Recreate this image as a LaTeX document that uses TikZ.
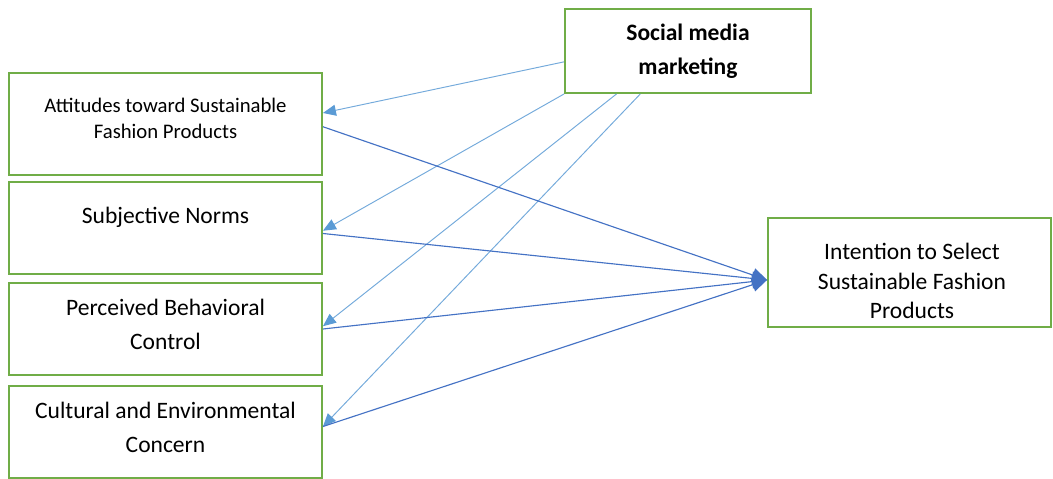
\documentclass[tikz,border=0pt]{standalone}
\usepackage{fontspec}
\setmainfont{Carlito}
\usetikzlibrary{arrows.meta}
\definecolor{boxgreen}{HTML}{70AD47}
\definecolor{smmblue}{HTML}{5B9BD5}
\definecolor{pathblue}{HTML}{4472C4}

\begin{document}
\begin{tikzpicture}[x=0.02cm, y=-0.02cm,
    box/.style={draw=boxgreen, line width=1.1pt, minimum width=6.26cm, minimum height=1.84cm},
    lbl/.style={align=center, font=\fontsize{13.4}{19.4}\selectfont},
    smmarrow/.style={draw=smmblue!85, line width=0.55pt, -{Triangle[length=0.26cm, width=0.22cm, color=smmblue]}},
    patharrow/.style={draw=pathblue, line width=0.65pt, -{Triangle[length=0.3cm, width=0.28cm, color=pathblue]}}]
    \useasboundingbox (0,0) rectangle (1053,479);

    % Define boxes
    \node[box, minimum height=2.04cm] (att) at (165.5,124) {};
    \node[box] (sn) at (165.5,228) {};
    \node[box] (pbc) at (165.5,329) {};
    \node[box] (cec) at (165.5,432) {};
    \node[box, minimum width=4.92cm, minimum height=1.68cm] (smm) at (688,51) {};
    \node[box, minimum width=5.66cm, minimum height=2.18cm] (int) at (909.5,272.5) {};

    % Box texts
    \node[lbl, font=\fontsize{11.8}{14.8}\selectfont] (att-t) at (165.5,118) {Attitudes toward Sustainable\\Fashion Products};
    \node[lbl] (sn-t) at (165.5,217) {Subjective Norms};
    \node[lbl] (pbc-t) at (165.5,324) {Perceived Behavioral\\Control};
    \node[lbl] (cec-t) at (165.5,427.5) {Cultural and Environmental\\Concern};
    \node[lbl, font=\fontsize{13.4}{19.4}\selectfont\bfseries] (smm-t) at (688,51) {Social media\\marketing};
    \node[lbl, font=\fontsize{13.4}{16.8}\selectfont] (int-t) at (912,281) {Intention to Select\\Sustainable Fashion\\Products};

    % Social media marketing to the four factors
    \draw[smmarrow] (smm.185.6) -- (att.4);
    \draw[smmarrow] (smm.south west) -- (sn.-1.8);
    \draw[smmarrow] (smm.211.7) -- (pbc.1.5);
    \draw[smmarrow] (smm.222.4) -- (cec.2.6);

    % Factors to intention
    \draw[patharrow] (att.-1.5) -- (int.183);
    \draw[patharrow] (sn.-2.6) -- (int.183);
    \draw[patharrow] (pbc.0.4) -- (int.183);
    \draw[patharrow] (cec.2.2) -- (int.183);
\end{tikzpicture}
\end{document}
